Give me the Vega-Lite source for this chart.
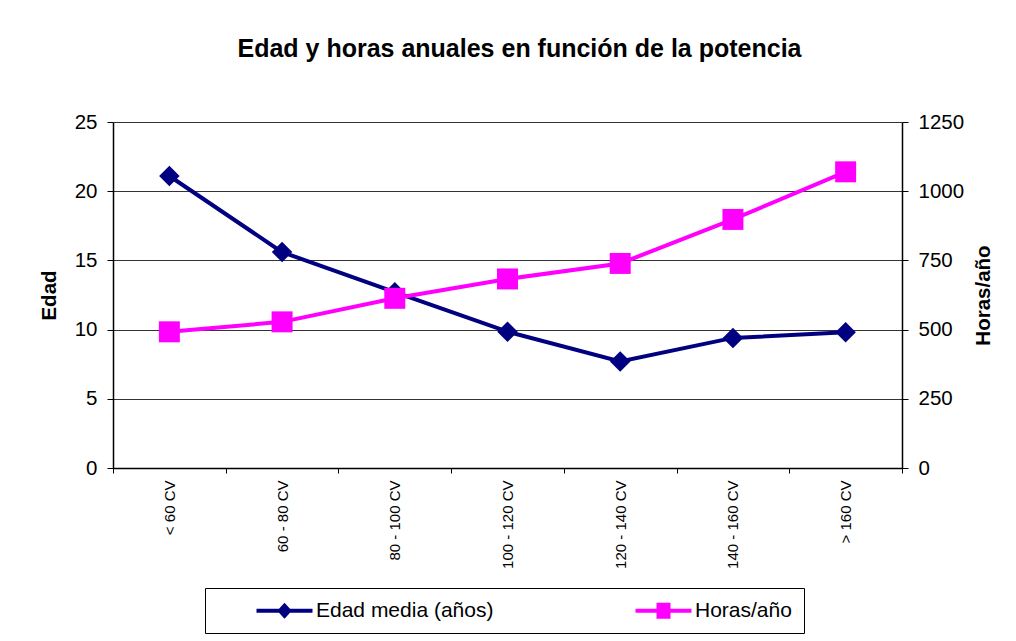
{
  "$schema": "https://vega.github.io/schema/vega-lite/v6.json",
  "autosize": "none",
  "width": 789,
  "height": 346,
  "padding": {"left": 113, "top": 122, "right": 114, "bottom": 173},
  "background": "white",
  "title": {
    "text": "Edad y horas anuales en función de la potencia",
    "font": "Liberation Sans",
    "fontSize": 25,
    "fontWeight": "bold",
    "color": "black",
    "anchor": "middle",
    "frame": "group",
    "baseline": "alphabetic",
    "offset": 30,
    "dx": 12
  },
  "data": {
    "values": [
      {"cat": "< 60 CV", "serie": "Edad media (años)", "valor": 21.1},
      {"cat": "60 - 80 CV", "serie": "Edad media (años)", "valor": 15.6},
      {"cat": "80 - 100 CV", "serie": "Edad media (años)", "valor": 12.7},
      {"cat": "100 - 120 CV", "serie": "Edad media (años)", "valor": 9.85},
      {"cat": "120 - 140 CV", "serie": "Edad media (años)", "valor": 7.7},
      {"cat": "140 - 160 CV", "serie": "Edad media (años)", "valor": 9.4},
      {"cat": "> 160 CV", "serie": "Edad media (años)", "valor": 9.8},
      {"cat": "< 60 CV", "serie": "Horas/año", "valor": 492},
      {"cat": "60 - 80 CV", "serie": "Horas/año", "valor": 528},
      {"cat": "80 - 100 CV", "serie": "Horas/año", "valor": 613},
      {"cat": "100 - 120 CV", "serie": "Horas/año", "valor": 683},
      {"cat": "120 - 140 CV", "serie": "Horas/año", "valor": 739},
      {"cat": "140 - 160 CV", "serie": "Horas/año", "valor": 898},
      {"cat": "> 160 CV", "serie": "Horas/año", "valor": 1070}
    ]
  },
  "encoding": {
    "x": {
      "field": "cat",
      "type": "ordinal",
      "sort": ["< 60 CV", "60 - 80 CV", "80 - 100 CV", "100 - 120 CV", "120 - 140 CV", "140 - 160 CV", "> 160 CV"],
      "scale": {"type": "band", "paddingInner": 0, "paddingOuter": 0},
      "axis": {
        "title": null,
        "labelAngle": 270,
        "labelFont": "Liberation Sans",
        "labelFontSize": 15,
        "labelColor": "black",
        "labelPadding": 7,
        "tickBand": "extent",
        "tickSize": 5,
        "tickColor": "black",
        "domainColor": "black",
        "domainWidth": 1.5,
        "grid": false
      }
    }
  },
  "layer": [
    {
      "transform": [{"filter": "datum.serie === 'Edad media (años)'"}],
      "encoding": {
        "y": {
          "field": "valor",
          "type": "quantitative",
          "scale": {"domain": [0, 25], "nice": false, "zero": true},
          "axis": {
            "orient": "left",
            "values": [0, 5, 10, 15, 20, 25],
            "title": "Edad",
            "titleFont": "Liberation Sans",
            "titleFontSize": 20.5,
            "titleFontWeight": "bold",
            "titleColor": "black",
            "titlePadding": 15,
            "labelFont": "Liberation Sans",
            "labelFontSize": 20.5,
            "labelColor": "black",
            "labelPadding": 10,
            "tickSize": 6,
            "tickColor": "black",
            "domainColor": "black",
            "domainWidth": 1.5,
            "grid": true,
            "gridColor": "#333333",
            "gridWidth": 1
          }
        }
      },
      "layer": [
        {"mark": {"type": "line", "color": "#000080", "strokeWidth": 4}},
        {"mark": {"type": "point", "shape": "diamond", "filled": true, "color": "#000080", "opacity": 1, "size": 420}}
      ]
    },
    {
      "transform": [{"filter": "datum.serie === 'Horas/año'"}],
      "encoding": {
        "y": {
          "field": "valor",
          "type": "quantitative",
          "scale": {"domain": [0, 1250], "nice": false, "zero": true},
          "axis": {
            "orient": "right",
            "values": [0, 250, 500, 750, 1000, 1250],
            "format": "d",
            "title": "Horas/año",
            "titleAngle": 270,
            "titleFont": "Liberation Sans",
            "titleFontSize": 20.5,
            "titleFontWeight": "bold",
            "titleColor": "black",
            "titlePadding": 30,
            "labelFont": "Liberation Sans",
            "labelFontSize": 20.5,
            "labelColor": "black",
            "labelPadding": 10,
            "tickSize": 6,
            "tickColor": "black",
            "domainColor": "black",
            "domainWidth": 1.5,
            "grid": false
          }
        }
      },
      "layer": [
        {"mark": {"type": "line", "color": "#FF00FF", "strokeWidth": 4}},
        {"mark": {"type": "point", "shape": "square", "filled": true, "color": "#FF00FF", "opacity": 1, "size": 440}}
      ]
    },
    {
      "mark": {"type": "point", "filled": true, "opacity": 1, "clip": true},
      "encoding": {
        "y": {"field": "valor", "type": "quantitative", "axis": null, "scale": {"domain": [-20000, -19000]}},
        "color": {
          "field": "serie",
          "type": "nominal",
          "scale": {"domain": ["Edad media (años)", "Horas/año"], "range": ["#000080", "#FF00FF"]},
          "legend": {
            "title": null,
            "orient": "none",
            "legendX": 92,
            "legendY": 466,
            "direction": "horizontal",
            "columns": 2,
            "columnPadding": 102,
            "padding": 12,
            "symbolOffset": 57,
            "strokeColor": "black",
            "fillColor": "white",
            "labelFont": "Liberation Sans",
            "labelFontSize": 21,
            "labelColor": "black",
            "labelOffset": 21,
            "labelLimit": 400,
            "symbolSize": 400,
            "symbolOpacity": 1,
            "symbolStrokeWidth": 0
          }
        },
        "shape": {
          "field": "serie",
          "type": "nominal",
          "scale": {
            "domain": ["Edad media (años)", "Horas/año"],
            "range": [
              "M-2.8,-0.2 L-0.55,-0.2 L0,-0.8 L0.55,-0.2 L2.8,-0.2 L2.8,0.2 L0.55,0.2 L0,0.8 L-0.55,0.2 L-2.8,0.2 Z",
              "M-2.8,-0.2 L-0.7,-0.2 L-0.7,-0.8 L0.7,-0.8 L0.7,-0.2 L2.8,-0.2 L2.8,0.2 L0.7,0.2 L0.7,0.8 L-0.7,0.8 L-0.7,0.2 L-2.8,0.2 Z"
            ]
          }
        }
      }
    }
  ],
  "resolve": {"scale": {"y": "independent"}, "axis": {"y": "independent"}},
  "config": {
    "view": {"stroke": null},
    "font": "Liberation Sans"
  }
}
